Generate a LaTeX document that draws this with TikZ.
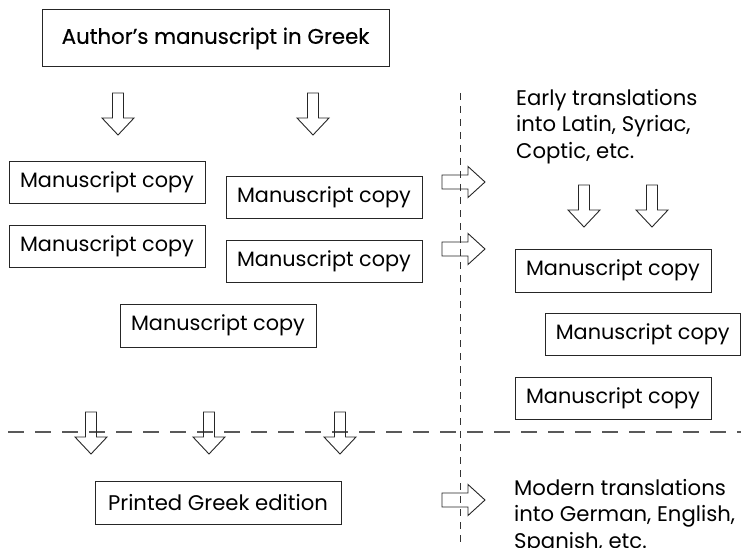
\documentclass[tikz,border=0pt]{standalone}
\usepackage{fontspec}
\setmainfont{Poppins}
\newfontfamily\medfont[FakeBold=0.3]{Poppins}
\begin{document}
\begin{tikzpicture}[x=1pt,y=-1pt,
  box/.style={draw=black!85, line width=1pt, minimum width=196pt, minimum height=42pt, inner sep=0pt, font=\fontsize{20.8}{25}\selectfont},
  note/.style={anchor=north west, inner sep=0pt, align=left, font=\fontsize{21.2}{26.5}\selectfont},
  arrowline/.style={draw=black!85, line width=0.9pt, line join=miter},
  downarrow/.pic={\path[arrowline] (-5.5,0) -- (-5.5,25) -- (-16,25) -- (0,42) -- (16,25) -- (5.5,25) -- (5.5,0) -- cycle;},
  rightarrow/.pic={\path[arrowline] (0,-7) -- (26,-7) -- (26,-15.5) -- (43,0) -- (26,15.5) -- (26,7) -- (0,7) -- cycle;}
]
\useasboundingbox (0,0) rectangle (741,548);
% dashed separators
\coordinate (vtop) at (460,93);
\coordinate (vbot) at (460,548);
\coordinate (hl) at (0,432);
\coordinate (hr) at (741,432);
\draw[black!80, line width=0.9pt, dash pattern=on 7pt off 6pt] (vtop) -- (vbot);
\draw[black!65, line width=1.4pt, dash pattern=on 16pt off 11pt, dash phase=19pt] (hl) -- (hr);

% top node
\node[box, minimum width=347pt, minimum height=57pt, font=\medfont\fontsize{21.3}{25}\selectfont] (author) at (215.5,38.5) {Author’s manuscript in Greek};

% left copies
\node[box, minimum height=41pt] (mA) at (107,182.5) {Manuscript copy};
\node[box, minimum height=41pt] (mB) at (324,197.5) {Manuscript copy};
\node[box] (mC) at (107,246) {Manuscript copy};
\node[box] (mD) at (324,261) {Manuscript copy};
\node[box, minimum height=43pt] (mE) at (218,325.5) {Manuscript copy};

% right copies
\node[box, minimum height=43pt] (mF) at (613,270.5) {Manuscript copy};
\node[box, minimum width=195.5pt] (mG) at (642.75,334) {Manuscript copy};
\node[box] (mH) at (613,398) {Manuscript copy};

% printed
\node[box, minimum width=246pt, minimum height=43pt, font=\fontsize{21.2}{25}\selectfont] (printed) at (218,502.5) {Printed Greek edition};

% notes
\node[note] (early) at (516,89) {Early translations\\into Latin, Syriac,\\Coptic, etc.};
\node[note] (modern) at (514,479) {Modern translations\\into German, English,\\Spanish, etc.};

% arrows
\pic at (118,93) {downarrow};
\pic at (313,93) {downarrow};
\pic at (584,185) {downarrow};
\pic at (652,185) {downarrow};
\pic at (91,412) {downarrow};
\pic at (209,412) {downarrow};
\pic at (340,412) {downarrow};
\pic at (442,182) {rightarrow};
\pic at (442,249) {rightarrow};
\pic at (442,500) {rightarrow};
\end{tikzpicture}
\end{document}
